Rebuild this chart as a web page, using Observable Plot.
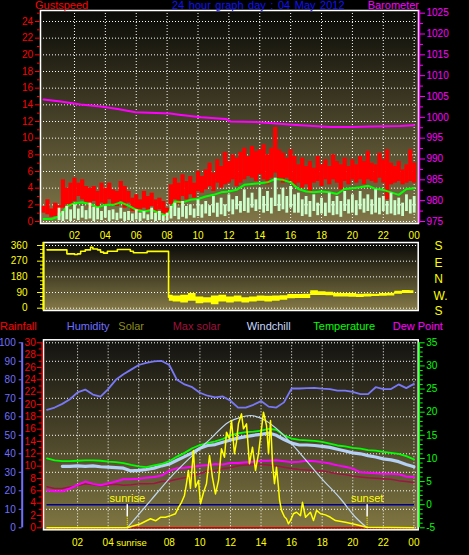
<!DOCTYPE html>
<html><head><meta charset="utf-8">
<script src="https://cdn.jsdelivr.net/npm/d3@7"></script>
<script src="https://cdn.jsdelivr.net/npm/@observablehq/plot@0.6"></script>
<style>
html,body{margin:0;padding:0;background:#000;}
#wrap{position:relative;width:469px;height:555px;overflow:hidden;background:#000;font-family:"Liberation Sans",Arial,sans-serif;}
.panel{position:absolute;left:0;}
.lbl{position:absolute;white-space:nowrap;font-size:11px;line-height:1;}
.dir{position:absolute;width:10px;text-align:center;font-size:12px;line-height:1;color:#ffff00;}
</style></head><body>
<div id="wrap">
  <div id="p1" class="panel" style="top:0px"></div>
  <div id="p2" class="panel" style="top:240px"></div>
  <div id="p3" class="panel" style="top:320px"></div>
  <div class="lbl" style="left:35px;top:-0.5px;color:#ff0000">Gustspeed</div>
  <div class="lbl" style="left:172px;top:-0.5px;color:#1010ff;word-spacing:1.5px">24 hour graph day : 04 May 2012</div>
  <div class="lbl" style="right:50px;top:-0.5px;color:#ff00ff">Barometer</div>
  <div class="dir" style="left:433.5px;top:239.5px">S</div>
  <div class="dir" style="left:433.5px;top:257px">E</div>
  <div class="dir" style="left:433.5px;top:273px">N</div>
  <div class="dir" style="left:433.5px;top:290px">W.</div>
  <div class="dir" style="left:433.5px;top:305px">S</div>
  <div class="lbl" style="left:0px;top:321.4px;color:#ff0000">Rainfall</div>
  <div class="lbl" style="left:66.7px;top:321.4px;color:#7070ff">Humidity</div>
  <div class="lbl" style="left:118.3px;top:321.4px;color:#8c8c1c">Solar</div>
  <div class="lbl" style="left:172.7px;top:321.4px;color:#a0103c">Max solar</div>
  <div class="lbl" style="left:246.7px;top:321.4px;color:#c8d8ff">Windchill</div>
  <div class="lbl" style="left:313.3px;top:321.4px;color:#00ff00">Temperature</div>
  <div class="lbl" style="left:392.7px;top:321.4px;color:#ff00ff">Dew Point</div>
</div>
<script>
// ================= DATA =================
// tick values / labels
const hourTicks = [2,4,6,8,10,12,14,16,18,20,22,24];
const hourLabels = ["02","04","06","08","10","12","14","16","18","20","22","00"];
const bottomHourTicks = [2,4,8,10,12,14,16,18,20,22,24];
const gustTicks = [0,2,4,6,8,10,12,14,16,18,20,22,24];
const gustMinorTicks = [1,3,5,7,9,11,13,15,17,19,21,23,25];
const baroTicks = [975,980,985,990,995,1000,1005,1010,1015,1020,1025];
const baroMinorTicks = [977.5,982.5,987.5,992.5,997.5,1002.5,1007.5,1012.5,1017.5,1022.5];
const dirTicks = [0,90,180,270,360];
const dirMinorTicks = [22.5,45,67.5,112.5,135,157.5,202.5,225,247.5,292.5,315,337.5];
const humTicks = [0,10,20,30,40,50,60,70,80,90,100];
const rainTicks = [0,2,4,6,8,10,12,14,16,18,20,22,24,26,28,30];
const rainMinorTicks = [1,3,5,7,9,11,13,15,17,19,21,23,25,27,29];
const tempTicks = [-5,0,5,10,15,20,25,30,35];
const tempMinorTicks = [-4,-3,-2,-1,1,2,3,4,6,7,8,9,11,12,13,14,16,17,18,19,21,22,23,24,26,27,28,29,31,32,33,34];

// sample times (hours of the day)
const quarterHours = d3.range(0, 24.001, 0.25); // 97
const halfHours = d3.range(0, 24.001, 0.5);     // 49

// --- top panel: wind (knots) ---
const gustHi = [1.8,2.6,1.5,2.2, 1.9,5.0,4.0,4.6, 5.2,4.6,5.0,4.2, 4.0,4.2,3.6,4.6, 4.0,4.6,3.8,3.6, 4.8,4.2,3.6,2.8,
  3.2,2.6,3.6,3.0, 3.4,2.6,2.8,2.4, 1.6,4.4,5.2,4.6, 5.6,4.8,5.4,4.6, 6.0,5.4,6.2,7.0, 5.8,7.4,6.6,8.3,
  7.2,8.0,7.6,8.3, 8.8,7.8,9.0,8.4, 8.6,9.2,8.0,8.8, 11.3,8.6,8.2,7.6, 8.6,7.8,6.8,7.6, 6.6,7.2,6.4,7.8,
  6.8,7.4,6.6,8.0, 7.2,6.8,7.6,6.6, 7.4,6.8,7.8,7.2, 8.4,7.0,6.8,8.2, 7.4,8.6,7.0,6.6, 7.2,6.2,6.8,8.6, 7.0];
const gustLo = [1.0,0.8,0.5,0.6, 1.0,1.6,2.0,1.8, 2.4,3.0,2.6,2.2, 1.6,2.4,1.6,2.2, 2.0,2.6,2.0,1.8, 2.4,1.6,2.2,1.2,
  1.0,1.4,1.6,1.2, 1.8,1.0,1.4,0.8, 0.4,2.0,2.6,2.0, 3.0,2.6,3.2,2.8, 3.6,3.4,3.8,4.2, 3.6,4.6,4.0,4.4,
  4.6,5.0,4.2,4.6, 5.0,5.4,5.2,4.8, 5.6,5.0,4.4,5.2, 5.8,5.0,4.6,5.2, 4.8,4.2,4.6,4.0, 4.4,3.4,4.6,4.8,
  4.2,5.0,4.4,5.0, 4.6,3.8,4.8,4.4, 5.0,4.6,5.0,4.4, 5.0,4.8,4.6,5.2, 4.6,2.6,4.4,4.6, 4.8,4.4,4.6,4.8, 4.6];
const windHi = [null,null,null,null, 1.6,1.2,1.8,1.4, 2.0,1.5,1.8,1.3, 2.2,1.7,1.6,1.2, 1.8,1.3,1.4,1.0, 1.6,1.1,1.2,0.9,
  1.4,1.0,1.2,0.8, 1.6,1.0,1.2,0.7, 1.0,1.8,2.2,1.6, 2.4,1.8,2.0,1.5, 2.6,2.0,2.4,1.9, 3.0,2.2,2.8,2.0,
  3.2,2.6,3.0,2.4, 3.8,2.8,3.4,2.6, 4.0,3.0,3.6,2.8, 5.2,3.2,4.0,3.0, 4.2,3.2,3.4,2.6, 3.0,2.4,3.2,2.2,
  2.8,2.2,3.4,2.4, 3.0,2.4,3.6,2.6, 3.2,2.5,3.6,2.7, 3.2,2.6,3.8,2.8, 3.0,2.4,3.4,2.5, 2.8,2.2,3.2,2.6, 3.0];
const windLo = [null,null,null,null, 0.1,0.0,0.2,0.0, 0.3,0.1,0.4,0.2, 0.3,0.0,0.2,0.1, 0.4,0.0,0.2,0.1, 0.3,0.0,0.1,0.0,
  0.2,0.0,0.3,0.1, 0.2,0.0,0.1,0.0, 0.1,0.3,0.6,0.2, 0.5,0.3,0.7,0.4, 0.6,0.4,0.9,0.6, 1.0,0.5,0.8,0.6,
  1.2,0.8,1.4,1.0, 1.2,1.0,1.6,1.2, 1.4,1.0,1.2,0.9, 1.8,1.2,1.4,1.0, 1.6,1.0,1.0,0.6, 0.8,0.5,1.2,0.7,
  0.9,0.6,1.0,0.7, 0.8,0.5,1.2,0.9, 1.0,0.7,1.4,1.0, 1.2,0.8,1.0,0.8, 1.2,0.8,0.9,0.7, 0.8,0.6,1.2,0.9, 1.0];
const windAvg = [0.3,0.3,0.6,1.8,2.2,2.3,2.1,1.7,2.0,2.0,2.3,1.9,1.4,1.2,1.4,1.0,0.7,2.4,2.3,2.6,2.7,3.0,3.2,3.5,
  3.6,3.8,4.4,4.5,4.6,4.7,5.1,5.0,4.7,3.9,3.6,3.5,3.6,3.5,3.3,3.9,4.0,4.1,4.3,3.9,3.8,3.5,3.2,3.9,4.0];
const baroHours = [0,1.1,2.4,3.7,4.8,5.95,8.2,8.9,10.2,11.8,12.1,13.7,16.6,18.6,19.9,21.2,23.1,24];
const baroHpa = [1004.3,1003.8,1003.1,1002.6,1002.0,1001.2,1000.9,1000.55,1000.0,999.6,999.0,998.9,998.1,997.7,997.7,997.8,997.9,998.1];

// --- middle panel: wind direction (degrees) ---
const dirHoursA = [0,1.2,1.3,1.8,2.0,2.2,2.5,2.85,3.0,3.3,3.5,3.7,3.95,4.35,4.6,5.1,5.45,5.65,6.45,6.55,7.9,7.95];
const dirA = [335,335,312,308,312,327,335,350,340,335,322,316,327,327,337,337,327,318,318,326,326,63];
const dirBandHours = d3.range(8, 24.001, 0.5); // 33
const dirLo = [40,35,30,40,25,30,20,35,30,35,30,35,40,35,40,45,54,55,56,73,73,72,65,65,63,62,65,67,68,70,80,84,85];
const dirHi = [75,70,75,85,65,60,70,75,65,70,60,65,70,68,70,72,79,78,80,100,95,92,86,85,84,80,82,80,84,86,98,102,100];

// --- bottom panel ---
const humidity = [63.8,65,67,69.5,73.2,74.7,72,70.9,75,80,83,85.5,88,89.2,90,90.2,88,80,77.5,76,73,71.4,70.5,71,
  68.7,65,65,66.5,68.5,65.5,65,67.8,75.3,75.3,75.5,75.6,75.2,75,74.1,74.1,73.5,72.3,72.3,76,75,75,77.5,75.5,77.8];
const temperature = [10.0,9.6,9.4,9.4,9.5,9.6,9.6,9.5,9.3,9.2,9.0,8.6,8.3,8.1,8.5,8.8,9.4,10.4,11.2,12.2,12.9,13.3,13.7,14.2,
  15.0,15.4,15.7,15.8,16.0,16.4,16.2,15.0,14.3,14.0,13.9,13.8,13.6,13.2,12.8,12.6,12.3,12.1,11.8,11.7,11.4,11.2,11.0,10.5,9.8];
const windchill = [null,null,8.3,8.3,8.4,8.3,8.4,8.2,8.1,8.0,7.9,7.3,7.4,7.6,7.9,8.4,8.8,9.6,10.4,11.2,12.2,12.8,13.0,13.5,
  14.0,14.4,14.7,15.0,15.2,15.5,15.0,14.1,13.3,12.9,12.9,12.8,12.6,12.4,12.0,11.6,11.2,11.0,10.6,10.3,9.9,9.7,9.3,8.7,8.2];
const dewPoint = [3.1,2.9,2.9,3.5,4.3,5.0,4.5,4.2,4.6,5.0,5.5,5.5,5.6,5.8,6.0,6.3,7.3,7.9,8.0,8.2,8.4,8.5,8.8,8.7,
  9.0,9.0,9.2,9.3,9.5,9.5,9.6,9.4,9.2,9.3,9.5,9.4,9.2,8.9,8.5,8.2,7.8,7.0,6.9,6.8,6.7,6.7,6.6,6.1,6.0];
const crimsonSeries = [3.9,3.5,3.5,3.8,4.1,4.5,4.3,4.1,4.3,4.4,4.2,4.3,4.5,4.5,4.6,5.0,5.1,5.5,5.8,6.3,6.7,7.3,7.4,7.8,
  8.0,8.4,8.6,8.7,8.7,8.6,8.4,8.1,7.8,7.6,7.5,7.4,7.3,7.0,6.7,6.5,6.2,6.0,5.8,5.7,5.6,5.5,5.2,5.0,4.8];
const rainHours = [0,24];
const rainfall = [0,0];
const solarHours = [0,5.25,6.12,6.77,7.1,7.42,7.75,8.08,8.4,8.6,8.8,8.99,9.12,9.25,9.38,9.58,9.71,9.91,10.04,10.24,
  10.43,10.63,10.82,11.02,11.22,11.41,11.61,11.74,11.94,12.07,12.26,12.39,12.52,12.72,12.85,13.05,13.24,13.44,13.64,13.83,
  14.03,14.16,14.36,14.49,14.62,14.75,14.88,15.01,15.14,15.21,15.34,15.53,15.66,15.79,15.93,16.12,16.32,16.58,16.71,16.91,
  17.23,17.43,17.63,17.89,18.21,18.54,18.87,19.52,20.18,20.9,24];
const solarWm2 = [0,0,22,49,38,57,57,66,76,111,138,175,238,310,213,418,219,256,130,192,
  238,391,273,183,256,427,382,517,481,580,400,463,562,616,535,562,346,436,310,400,
  535,625,553,400,580,346,238,328,219,150,94,60,49,22,40,76,84,66,138,57,
  84,39,94,76,70,57,39,30,18,3,0];
const maxSolarHours = [5.25,6.77,8.08,9.39,10.69,11.87,12.66,13.31,14.29,15.27,16.58,17.89,19.2,20.18,20.94];
const maxSolarWm2 = [0,147,273,381,481,571,597,607,580,517,400,273,157,57,0];
const sunriseHour = 5.25, sunsetHour = 20.94;

// ================= BUILD =================
const topX = [-0.2, 24.28];
const lowX = [-0.23, 24.28];
const font = {background: "transparent", color: "#fff", fontFamily: "'Liberation Sans', Arial, sans-serif", fontSize: "10px"};
const dotted = {stroke: "#fff", strokeOpacity: 1, strokeWidth: 1, strokeDasharray: "1,2"};
const none = () => "";
const ax = (o) => Object.assign({label: null}, o);

function addGradient(svg, id, c0, c1) {
  const ns = "http://www.w3.org/2000/svg";
  const defs = document.createElementNS(ns, "defs");
  defs.innerHTML = `<linearGradient id="${id}" x1="0" y1="0" x2="0" y2="1"><stop offset="0" stop-color="${c0}"/><stop offset="1" stop-color="${c1}"/></linearGradient>`;
  svg.insertBefore(defs, svg.firstChild);
}

const gustRows = quarterHours.map((h, i) => ({h, lo: gustLo[i], hi: gustHi[i]}));
const windRows = quarterHours.map((h, i) => ({h, lo: windLo[i], hi: windHi[i]})).filter(d => d.hi != null);
const avgRows = halfHours.map((h, i) => ({h, v: windAvg[i]}));
const baroRows = baroHours.map((h, i) => ({h, p: baroHpa[i]}));
const baroPos = p => (p - 975) / 2;

const p1 = Plot.plot({
  width: 469, height: 240, marginLeft: 40, marginRight: 51, marginTop: 10, marginBottom: 17,
  style: font,
  x: {domain: topX, label: null},
  y: {domain: [-0.24, 25.32], label: null},
  marks: [
    Plot.frame({fill: "url(#bgTop)"}),
    Plot.gridY(gustTicks, dotted),
    Plot.gridX(hourTicks, dotted),
    Plot.ruleX(gustRows, {x: "h", y1: "lo", y2: "hi", stroke: "#ff0000", strokeWidth: 4.2}),
    Plot.line(avgRows, {x: "h", y: "v", stroke: "#00ff00", strokeWidth: 2}),
    Plot.ruleX(windRows, {x: "h", y1: "lo", y2: "hi", stroke: "#ccffcc", strokeWidth: 2.8}),
    Plot.line(baroRows, {x: "h", y: d => baroPos(d.p), stroke: "#ff00ff", strokeWidth: 2}),
    Plot.frame({stroke: "#fff", strokeWidth: 1.5}),
    Plot.axisY(gustTicks, ax({anchor: "left", tickSize: 5, tickPadding: 2.5, color: "#ff0000", stroke: "#ff0000", fill: "#ff0000", tickFormat: d => String(d)})),
    Plot.axisY(gustMinorTicks, ax({anchor: "left", tickSize: 3, color: "#ff0000", stroke: "#ff0000", tickFormat: none})),
    Plot.ruleX([topX[1]], {dx: 1, stroke: "#ff00ff", strokeWidth: 1.5}),
    Plot.axisY(baroTicks.map(baroPos), ax({anchor: "right", dx: 1, tickSize: 5, tickPadding: 2, color: "#ff00ff", stroke: "#ff00ff", fill: "#ff00ff", tickFormat: d => String(Math.round(975 + 2 * d))})),
    Plot.axisY(baroMinorTicks.map(baroPos), ax({anchor: "right", dx: 1, tickSize: 3, color: "#ff00ff", stroke: "#ff00ff", tickFormat: none})),
    Plot.axisX(hourTicks, ax({anchor: "bottom", tickSize: 0, tickPadding: 8, color: "#ffff00", fill: "#ffff00", tickFormat: d => hourLabels[hourTicks.indexOf(d)]}))
  ]
});
addGradient(p1, "bgTop", "#0a0a07", "#807648");
document.getElementById("p1").append(p1);

const dirRowsA = dirHoursA.map((h, i) => ({h, d: dirA[i]}));
const dirRowsB = dirBandHours.map((h, i) => ({h, lo: dirLo[i], hi: dirHi[i]}));
const p2 = Plot.plot({
  width: 469, height: 80, marginLeft: 43, marginRight: 51.3, marginTop: 2, marginBottom: 10,
  style: font,
  x: {domain: lowX, axis: null, label: null},
  y: {domain: [-13.2, 377.2], label: null},
  marks: [
    Plot.frame({fill: "url(#bgMid)"}),
    Plot.gridY(dirTicks, dotted),
    Plot.line(dirRowsA, {x: "h", y: "d", stroke: "#ffff00", strokeWidth: 1.6, curve: "step-after"}),
    Plot.areaY(dirRowsB, {x: "h", y1: "lo", y2: "hi", fill: "#ffff00", curve: "step"}),
    Plot.frame({stroke: "#fff", strokeWidth: 1.5}),
    Plot.ruleX([lowX[0]], {stroke: "#ffff00", strokeWidth: 2}),
    Plot.axisY(dirTicks, ax({anchor: "left", tickSize: 6, tickPadding: 10, color: "#ffff00", stroke: "#ffff00", fill: "#ffff00", tickFormat: d => String(d)})),
    Plot.axisY(dirMinorTicks, ax({anchor: "left", tickSize: 3, color: "#ffff00", stroke: "#ffff00", tickFormat: none}))
  ]
});
addGradient(p2, "bgMid", "#080806", "#857a48");
document.getElementById("p2").append(p2);

// bottom panel: everything shares the temperature scale (-5..35)
const humPos = h => -5 + h * 0.4;
const rainPos = r => -5 + r * 4 / 3;
const solarPos = s => -5 + s * 0.04;
const halfRows = arr => halfHours.map((h, i) => ({h, v: arr[i]})).filter(d => d.v != null);
const solarRows = solarHours.map((h, i) => ({h, s: solarWm2[i]}));
const maxSolarRows = maxSolarHours.map((h, i) => ({h, s: maxSolarWm2[i]}));
const rainRows = rainHours.map((h, i) => ({h, r: rainfall[i]}));
const sunRows = [{h: sunriseHour, label: "sunrise"}, {h: sunsetHour, label: "sunset"}];

const p3 = Plot.plot({
  width: 469, height: 235, marginLeft: 43, marginRight: 51.3, marginTop: 19.3, marginBottom: 25.7,
  style: font,
  x: {domain: lowX, label: null},
  y: {domain: [-5.43, 35.65], label: null},
  marks: [
    Plot.frame({fill: "url(#bgLow)"}),
    Plot.gridY(humTicks.map(humPos), dotted),
    Plot.gridX(hourTicks, dotted),
    Plot.ruleY([0], {x1: 0, x2: 24.05, stroke: "#000090", strokeWidth: 1.5}),
    Plot.line(rainRows, {x: "h", y: d => rainPos(d.r), stroke: "#cc0000", strokeWidth: 1.5}),
    Plot.line(halfRows(crimsonSeries), {x: "h", y: "v", stroke: "#a01446", strokeWidth: 1.5}),
    Plot.line(halfRows(dewPoint), {x: "h", y: "v", stroke: "#ff00ff", strokeWidth: 2}),
    Plot.line(halfRows(windchill), {x: "h", y: "v", stroke: "#b4d0f4", strokeWidth: 3.2}),
    Plot.line(halfRows(temperature), {x: "h", y: "v", stroke: "#00ff00", strokeWidth: 1.8}),
    Plot.line(halfRows(humidity), {x: "h", y: d => humPos(d.v), stroke: "#7878f8", strokeWidth: 1.8}),
    Plot.line(maxSolarRows, {x: "h", y: d => solarPos(d.s), stroke: "#c0d8f0", strokeWidth: 1.2, curve: "monotone-x"}),
    Plot.line(solarRows, {x: "h", y: d => solarPos(d.s), stroke: "#ffff00", strokeWidth: 1.5}),
    Plot.ruleX(sunRows, {x: "h", y1: 0, y2: -2.6, stroke: "#fff", strokeWidth: 1.5}),
    Plot.ruleX(sunRows, {x: "h", y1: -2.6, y2: -5, stroke: "#ffff00", strokeWidth: 1, strokeDasharray: "1,1"}),
    Plot.text(sunRows, {x: "h", y: 0, text: "label", dy: -3, lineAnchor: "bottom", fill: "#ffff00", fontSize: 11}),
    Plot.frame({stroke: "#fff", strokeWidth: 1.5}),
    // humidity axis
    Plot.ruleX([lowX[0]], {dx: -21.3, y1: humPos(0), y2: humPos(100), stroke: "#7070ff", strokeWidth: 2}),
    Plot.axisY(humTicks.map(humPos), ax({anchor: "left", dx: -21.3, tickSize: 3, tickPadding: 3.5, color: "#7070ff", stroke: "#7070ff", fill: "#7070ff", tickFormat: d => String(Math.round((d + 5) / 0.4))})),
    // rainfall axis
    Plot.ruleX([lowX[0]], {dx: -1.3, y1: rainPos(0), y2: rainPos(30), stroke: "#ff0000", strokeWidth: 1.5}),
    Plot.axisY(rainTicks.map(rainPos), ax({anchor: "left", dx: -1.3, tickSize: 5, tickPadding: 1.5, color: "#ff0000", stroke: "#ff0000", fill: "#ff0000", tickFormat: d => String(Math.round((d + 5) * 0.75))})),
    Plot.axisY(rainMinorTicks.map(rainPos), ax({anchor: "left", dx: -1.3, tickSize: 3, color: "#ff0000", stroke: "#ff0000", tickFormat: none})),
    // temperature axis
    Plot.ruleX([lowX[1]], {dx: 1, y1: -5, y2: 35, stroke: "#00ff00", strokeWidth: 1.5}),
    Plot.axisY(tempTicks, ax({anchor: "right", dx: 1, tickSize: 5, tickPadding: 2, color: "#00ff00", stroke: "#00ff00", fill: "#00ff00", tickFormat: d => String(d)})),
    Plot.axisY(tempMinorTicks, ax({anchor: "right", dx: 1, tickSize: 3, color: "#00ff00", stroke: "#00ff00", tickFormat: none})),
    Plot.axisX(bottomHourTicks, ax({anchor: "bottom", tickSize: 0, tickPadding: 9, color: "#ffff00", fill: "#ffff00", tickFormat: d => hourLabels[hourTicks.indexOf(d)]})),
    Plot.text([{h: sunriseHour, label: "sunrise"}], {x: "h", text: "label", frameAnchor: "bottom", dy: 16, dx: -11, textAnchor: "start", lineAnchor: "bottom", fill: "#ffff00", fontSize: 9.5})
  ]
});
addGradient(p3, "bgLow", "#121210", "#807642");
document.getElementById("p3").append(p3);
</script>
</body></html>
